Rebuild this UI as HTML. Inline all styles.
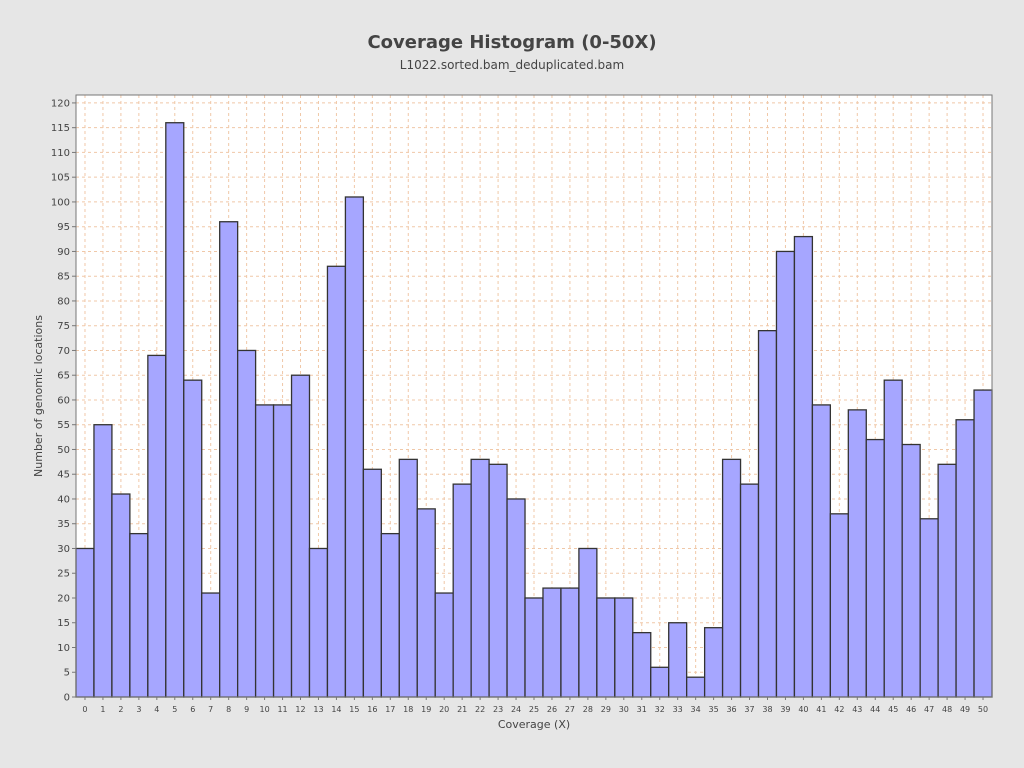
<!DOCTYPE html>
<html><head><meta charset="utf-8"><style>
body{margin:0;background:#e6e6e6;font-family:"Liberation Sans","DejaVu Sans",sans-serif;}
svg{display:block}
</style></head><body>
<svg width="1024" height="768">
<rect width="1024" height="768" fill="#e6e6e6"/>
<text x="512" y="48" text-anchor="middle" font-size="18" font-weight="bold" fill="#444" font-family="DejaVu Sans, sans-serif">Coverage Histogram (0-50X)</text>
<text x="512" y="69" text-anchor="middle" font-size="12" fill="#444" font-family="DejaVu Sans, sans-serif">L1022.sorted.bam_deduplicated.bam</text>
<rect x="76" y="95" width="916" height="602" fill="#fff"/>
<g id="grid"></g><g id="bars"></g><g id="axes"></g>
<rect x="76" y="95" width="916" height="602" fill="none" stroke="#777"/>
<text x="534" y="728" text-anchor="middle" font-size="11" fill="#444" font-family="DejaVu Sans, sans-serif">Coverage (X)</text>
<text transform="translate(42,396) rotate(-90)" text-anchor="middle" font-size="11" fill="#444" font-family="DejaVu Sans, sans-serif">Number of genomic locations</text>
</svg>
<script>
const categories=[0,1,2,3,4,5,6,7,8,9,10,11,12,13,14,15,16,17,18,19,20,21,22,23,24,25,26,27,28,29,30,31,32,33,34,35,36,37,38,39,40,41,42,43,44,45,46,47,48,49,50];
const counts=[30,55,41,33,69,116,64,21,96,70,59,59,65,30,87,101,46,33,48,38,21,43,48,47,40,20,22,22,30,20,20,13,6,15,4,14,48,43,74,90,93,59,37,58,52,64,51,36,47,56,62];
const yTicks=[0,5,10,15,20,25,30,35,40,45,50,55,60,65,70,75,80,85,90,95,100,105,110,115,120];
const NS="http://www.w3.org/2000/svg";
const X0=76,X1=992,Y0=697,YMAX=121.6,PT=95;
const bw=(X1-X0)/categories.length;
const xs=i=>X0+i*bw;
const ys=v=>Y0-v*(Y0-PT)/YMAX;
function mk(t,a,p){const e=document.createElementNS(NS,t);for(const k in a)e.setAttribute(k,a[k]);p.appendChild(e);return e;}
const g=document.getElementById('grid'),b=document.getElementById('bars'),ax=document.getElementById('axes');
yTicks.forEach(v=>{
const l=mk('line',{x1:X0,x2:X1,y1:ys(v),y2:ys(v),stroke:'#f0c8a8','stroke-dasharray':'3,3'},g);


mk('line',{x1:X0-4,x2:X0,y1:ys(v),y2:ys(v),stroke:'#777'},ax);
const t=mk('text',{x:X0-6,y:ys(v)+3.5,'text-anchor':'end','font-size':10,fill:'#444','font-family':'DejaVu Sans, sans-serif'},ax);
t.textContent=v;


});
categories.forEach((c,i)=>{
const cx=xs(i)+bw/2;
const l=mk('line',{x1:cx,x2:cx,y1:PT,y2:Y0,stroke:'#f0c8a8','stroke-dasharray':'3,3'},g);


const r=mk('rect',{x:xs(i),y:ys(counts[i]),width:bw,height:Y0-ys(counts[i]),fill:'#a6a6ff',stroke:'#333','stroke-width':1.3},b);


mk('line',{x1:cx,x2:cx,y1:Y0,y2:Y0+3,stroke:'#777'},ax);
const t=mk('text',{x:cx,y:Y0+15,'text-anchor':'middle','font-size':8,fill:'#444','font-family':'DejaVu Sans, sans-serif'},ax);
t.textContent=c;


});
</script>
</body></html>
